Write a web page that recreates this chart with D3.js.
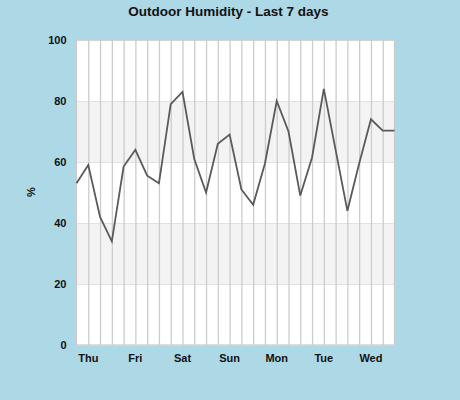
<!DOCTYPE html>
<html>
<head>
<meta charset="utf-8">
<script src="https://cdn.jsdelivr.net/npm/d3@7"></script>
<style>
  body { margin: 0; background: #add8e6; }
  svg { display: block; }
</style>
</head>
<body>
<div id="chartId"></div>
<script>
// readings every 6 hours, oldest first
const HUMIDITY = [53, 59, 42, 34, 58.5, 64, 55.5, 53, 79, 83, 61, 50, 66, 69,
    51, 46, 59.5, 80, 70, 49, 61.5, 84, 64, 44, 59.5, 74, 70.3, 70.3]
// day labels and the reading index they sit under
const DAY_LABELS = ["Thu", "Fri", "Sat", "Sun", "Mon", "Tue", "Wed"]
const DAY_INDEX = [1, 5, 9, 13, 17, 21, 25]
const Y_TICKS = [0, 20, 40, 60, 80, 100]
const SHADED_BANDS = [[20, 40], [60, 80]]

const WIDTH = 460
const HEIGHT = 400
const LEFT = 76.5
const RIGHT = 394.5
const TOP = 40
const BOTTOM = 345
const GRID_COLOR = "#cccccc"
const FONT = "'Liberation Sans', Arial, sans-serif"

let svg = d3.select("#chartId").append("svg")
    .attr("width", WIDTH)
    .attr("height", HEIGHT)

let x = d3.scaleLinear().domain([0, HUMIDITY.length - 1]).range([LEFT, RIGHT])
let y = d3.scaleLinear().domain([0, 100]).range([BOTTOM, TOP])

// plot background
svg.append("rect")
    .attr("x", LEFT)
    .attr("y", TOP)
    .attr("width", RIGHT - LEFT)
    .attr("height", BOTTOM - TOP)
    .attr("fill", "white")

svg.selectAll("rect.band")
    .data(SHADED_BANDS)
    .enter().append("rect")
    .attr("class", "band")
    .attr("x", LEFT)
    .attr("y", d => y(d[1]))
    .attr("width", RIGHT - LEFT)
    .attr("height", d => y(d[0]) - y(d[1]))
    .attr("fill", "#f3f3f3")

// horizontal grid lines
svg.append("g")
    .attr("transform", "translate(" + LEFT + ",0)")
    .call(d3.axisLeft(y).tickValues(Y_TICKS).tickSize(-(RIGHT - LEFT)).tickFormat(""))
    .call(g => g.select(".domain").remove())
    .call(g => g.selectAll("line").attr("stroke", "#e2e2e2"))

// vertical grid lines, one per reading
svg.append("g")
    .attr("transform", "translate(0," + BOTTOM + ")")
    .call(d3.axisBottom(x).tickValues(d3.range(1, HUMIDITY.length - 1)).tickSize(-(BOTTOM - TOP)).tickFormat(""))
    .call(g => g.select(".domain").remove())
    .call(g => g.selectAll("line").attr("stroke", GRID_COLOR).attr("stroke-width", 1.3))

svg.append("rect")
    .attr("x", LEFT)
    .attr("y", TOP)
    .attr("width", RIGHT - LEFT)
    .attr("height", BOTTOM - TOP)
    .attr("fill", "none")
    .attr("stroke", GRID_COLOR)
    .attr("stroke-width", 1.3)

// y tick labels
svg.append("g")
    .attr("transform", "translate(" + LEFT + ",0)")
    .call(d3.axisLeft(y).tickValues(Y_TICKS).tickSize(0).tickPadding(10))
    .call(g => g.select(".domain").remove())
    .call(g => g.selectAll("text")
        .attr("font-family", FONT)
        .attr("font-size", 11)
        .attr("font-weight", "bold")
        .attr("fill", "#111"))

// day labels
svg.append("g")
    .selectAll("text")
    .data(DAY_LABELS)
    .enter().append("text")
    .attr("x", (d, i) => x(DAY_INDEX[i]))
    .attr("y", 362)
    .attr("text-anchor", "middle")
    .attr("font-family", FONT)
    .attr("font-size", 11)
    .attr("font-weight", "bold")
    .attr("fill", "#111")
    .text(d => d)

let line = d3.line()
    .x((d, i) => x(i))
    .y(d => y(d))

svg.append("path")
    .datum(HUMIDITY)
    .attr("d", line)
    .attr("fill", "none")
    .attr("stroke", "#5a5a5a")
    .attr("stroke-width", 1.8)

svg.append("text")
    .attr("x", 228.5)
    .attr("y", 16)
    .attr("text-anchor", "middle")
    .attr("font-family", FONT)
    .attr("font-size", 13.5)
    .attr("font-weight", "bold")
    .attr("fill", "#111")
    .text("Outdoor Humidity - Last 7 days")

svg.append("text")
    .attr("transform", "translate(35,192) rotate(-90)")
    .attr("text-anchor", "middle")
    .attr("font-family", FONT)
    .attr("font-size", 11)
    .attr("font-weight", "bold")
    .attr("fill", "#111")
    .text("%")
</script>
</body>
</html>
